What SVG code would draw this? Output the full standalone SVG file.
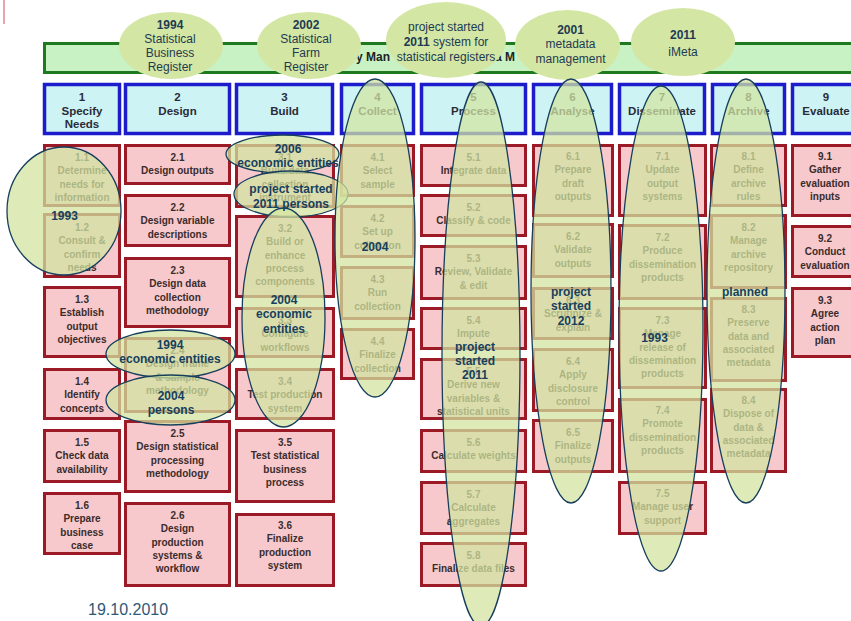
<svg xmlns="http://www.w3.org/2000/svg" width="851" height="621" viewBox="0 0 851 621">
<style>
.hb{fill:#cdf3f5;stroke:#1c1ccc;stroke-width:3.5}
.rb{fill:#f7c9cd;stroke:#9c1a26;stroke-width:3}
.bt{font-family:"Liberation Sans",Arial,sans-serif;font-weight:bold;font-size:10px;fill:#3a2c2c;text-anchor:middle}
.ht{font-family:"Liberation Sans",Arial,sans-serif;font-weight:bold;font-size:11.5px;fill:#2b2b38;text-anchor:middle}
.et{fill:#d4e6a4}
.el{fill:#d3e4a0;fill-opacity:.74;stroke:#173f5c;stroke-width:1.3}
.lb{font-family:"Liberation Sans",Arial,sans-serif;font-weight:bold;font-size:12px;fill:#16405e;text-anchor:middle}
.tl{font-family:"Liberation Sans",Arial,sans-serif;font-size:12px;fill:#1d3b52;text-anchor:middle}
.tb{font-weight:bold}
</style>
<rect width="851" height="621" fill="#ffffff"/>
<line x1="4" y1="0" x2="4" y2="24" stroke="#e6a6ae" stroke-width="2"/>
<g id="bar">
<rect x="44.5" y="43.5" width="820" height="29" fill="#c9f2c4" stroke="#1f7a1f" stroke-width="3"/>
<text x="356" y="61" font-family="Liberation Sans,Arial,sans-serif" font-weight="bold" font-size="12" fill="#222">y Man</text>
<text x="495" y="61" font-family="Liberation Sans,Arial,sans-serif" font-weight="bold" font-size="12" fill="#222">a M</text>
</g>
<g id="headers">
<g id="h1"><rect class="hb" x="44.5" y="84.5" width="75" height="49"/><text class="ht" x="82" y="101"><tspan x="82">1</tspan><tspan x="82" dy="13.5">Specify</tspan><tspan x="82" dy="13.5">Needs</tspan></text></g>
<g id="h2"><rect class="hb" x="125.5" y="84.5" width="104" height="49"/><text class="ht" x="177.5" y="101"><tspan x="177.5">2</tspan><tspan x="177.5" dy="13.5">Design</tspan></text></g>
<g id="h3"><rect class="hb" x="236.5" y="84.5" width="96" height="49"/><text class="ht" x="284.5" y="101"><tspan x="284.5">3</tspan><tspan x="284.5" dy="13.5">Build</tspan></text></g>
<g id="h4"><rect class="hb" x="341.5" y="84.5" width="72" height="49"/><text class="ht" x="377.5" y="101"><tspan x="377.5">4</tspan><tspan x="377.5" dy="13.5">Collect</tspan></text></g>
<g id="h5"><rect class="hb" x="421.5" y="84.5" width="104" height="49"/><text class="ht" x="473.5" y="101"><tspan x="473.5">5</tspan><tspan x="473.5" dy="13.5">Process</tspan></text></g>
<g id="h6"><rect class="hb" x="533.5" y="84.5" width="78" height="49"/><text class="ht" x="572.5" y="101"><tspan x="572.5">6</tspan><tspan x="572.5" dy="13.5">Analyse</tspan></text></g>
<g id="h7"><rect class="hb" x="619.5" y="84.5" width="85" height="49"/><text class="ht" x="662" y="101"><tspan x="662">7</tspan><tspan x="662" dy="13.5">Disseminate</tspan></text></g>
<g id="h8"><rect class="hb" x="712.5" y="84.5" width="72" height="49"/><text class="ht" x="748.5" y="101"><tspan x="748.5">8</tspan><tspan x="748.5" dy="13.5">Archive</tspan></text></g>
<g id="h9"><rect class="hb" x="792.5" y="84.5" width="67" height="49"/><text class="ht" x="826" y="101"><tspan x="826">9</tspan><tspan x="826" dy="13.5">Evaluate</tspan></text></g>
</g>
<g id="boxes">
<g id="b1-1"><rect class="rb" x="44.5" y="145.5" width="75" height="60"/><text class="bt" y="161"><tspan x="82">1.1</tspan><tspan x="82" dy="13.3">Determine</tspan><tspan x="82" dy="13.3">needs for</tspan><tspan x="82" dy="13.3">information</tspan></text></g>
<g id="b1-2"><rect class="rb" x="44.5" y="214.5" width="75" height="62"/><text class="bt" y="231"><tspan x="82">1.2</tspan><tspan x="82" dy="13.3">Consult &amp;</tspan><tspan x="82" dy="13.3">confirm</tspan><tspan x="82" dy="13.3">needs</tspan></text></g>
<g id="b1-3"><rect class="rb" x="44.5" y="287.5" width="75" height="69"/><text class="bt" y="303"><tspan x="82">1.3</tspan><tspan x="82" dy="13.3">Establish</tspan><tspan x="82" dy="13.3">output</tspan><tspan x="82" dy="13.3">objectives</tspan></text></g>
<g id="b1-4"><rect class="rb" x="44.5" y="369.5" width="75" height="49"/><text class="bt" y="385"><tspan x="82">1.4</tspan><tspan x="82" dy="13.3">Identify</tspan><tspan x="82" dy="13.3">concepts</tspan></text></g>
<g id="b1-5"><rect class="rb" x="44.5" y="430.5" width="75" height="51"/><text class="bt" y="446"><tspan x="82">1.5</tspan><tspan x="82" dy="13.3">Check data</tspan><tspan x="82" dy="13.3">availability</tspan></text></g>
<g id="b1-6"><rect class="rb" x="44.5" y="493.5" width="75" height="60"/><text class="bt" y="509"><tspan x="82">1.6</tspan><tspan x="82" dy="13.3">Prepare</tspan><tspan x="82" dy="13.3">business</tspan><tspan x="82" dy="13.3">case</tspan></text></g>

<g id="b2-1"><rect class="rb" x="125.5" y="145.5" width="104" height="38"/><text class="bt" y="161"><tspan x="177.5">2.1</tspan><tspan x="177.5" dy="13.3">Design outputs</tspan></text></g>
<g id="b2-2"><rect class="rb" x="125.5" y="195.5" width="104" height="50"/><text class="bt" y="211"><tspan x="177.5">2.2</tspan><tspan x="177.5" dy="13.3">Design variable</tspan><tspan x="177.5" dy="13.3">descriptions</tspan></text></g>
<g id="b2-3"><rect class="rb" x="125.5" y="258.5" width="104" height="68"/><text class="bt" y="274"><tspan x="177.5">2.3</tspan><tspan x="177.5" dy="13.3">Design data</tspan><tspan x="177.5" dy="13.3">collection</tspan><tspan x="177.5" dy="13.3">methodology</tspan></text></g>
<g id="b2-4"><rect class="rb" x="125.5" y="338.5" width="104" height="73"/><text class="bt" y="354"><tspan x="177.5">2.4</tspan><tspan x="177.5" dy="13.3">Design frame</tspan><tspan x="177.5" dy="13.3">&amp; sample</tspan><tspan x="177.5" dy="13.3">methodology</tspan></text></g>
<g id="b2-5"><rect class="rb" x="125.5" y="421.5" width="104" height="70"/><text class="bt" y="437"><tspan x="177.5">2.5</tspan><tspan x="177.5" dy="13.3">Design statistical</tspan><tspan x="177.5" dy="13.3">processing</tspan><tspan x="177.5" dy="13.3">methodology</tspan></text></g>
<g id="b2-6"><rect class="rb" x="125.5" y="503.5" width="104" height="82"/><text class="bt" y="519"><tspan x="177.5">2.6</tspan><tspan x="177.5" dy="13.3">Design</tspan><tspan x="177.5" dy="13.3">production</tspan><tspan x="177.5" dy="13.3">systems &amp;</tspan><tspan x="177.5" dy="13.3">workflow</tspan></text></g>

<g id="b3-1"><rect class="rb" x="236.5" y="145.5" width="97" height="61"/><text class="bt" y="161"><tspan x="285">3.1</tspan><tspan x="285" dy="13.3">Build data</tspan><tspan x="285" dy="13.3">collection</tspan><tspan x="285" dy="13.3">instrument</tspan></text></g>
<g id="b3-2"><rect class="rb" x="236.5" y="216.5" width="97" height="80"/><text class="bt" y="232"><tspan x="285">3.2</tspan><tspan x="285" dy="13.3">Build or</tspan><tspan x="285" dy="13.3">enhance</tspan><tspan x="285" dy="13.3">process</tspan><tspan x="285" dy="13.3">components</tspan></text></g>
<g id="b3-3"><rect class="rb" x="236.5" y="308.5" width="97" height="48"/><text class="bt" y="324"><tspan x="285">3.3</tspan><tspan x="285" dy="13.3">Configure</tspan><tspan x="285" dy="13.3">workflows</tspan></text></g>
<g id="b3-4"><rect class="rb" x="236.5" y="369.5" width="97" height="49"/><text class="bt" y="385"><tspan x="285">3.4</tspan><tspan x="285" dy="13.3">Test production</tspan><tspan x="285" dy="13.3">system</tspan></text></g>
<g id="b3-5"><rect class="rb" x="236.5" y="430.5" width="97" height="71"/><text class="bt" y="446"><tspan x="285">3.5</tspan><tspan x="285" dy="13.3">Test statistical</tspan><tspan x="285" dy="13.3">business</tspan><tspan x="285" dy="13.3">process</tspan></text></g>
<g id="b3-6"><rect class="rb" x="236.5" y="514.5" width="97" height="71"/><text class="bt" y="529"><tspan x="285">3.6</tspan><tspan x="285" dy="13.3">Finalize</tspan><tspan x="285" dy="13.3">production</tspan><tspan x="285" dy="13.3">system</tspan></text></g>

<g id="b4-1"><rect class="rb" x="341.5" y="145.5" width="72" height="50"/><text class="bt" y="161"><tspan x="377.5">4.1</tspan><tspan x="377.5" dy="13.3">Select</tspan><tspan x="377.5" dy="13.3">sample</tspan></text></g>
<g id="b4-2"><rect class="rb" x="341.5" y="206.5" width="72" height="50"/><text class="bt" y="222"><tspan x="377.5">4.2</tspan><tspan x="377.5" dy="13.3">Set up</tspan><tspan x="377.5" dy="13.3">collection</tspan></text></g>
<g id="b4-3"><rect class="rb" x="341.5" y="267.5" width="72" height="51"/><text class="bt" y="283"><tspan x="377.5">4.3</tspan><tspan x="377.5" dy="13.3">Run</tspan><tspan x="377.5" dy="13.3">collection</tspan></text></g>
<g id="b4-4"><rect class="rb" x="341.5" y="329.5" width="72" height="49"/><text class="bt" y="345"><tspan x="377.5">4.4</tspan><tspan x="377.5" dy="13.3">Finalize</tspan><tspan x="377.5" dy="13.3">collection</tspan></text></g>

<g id="b5-1"><rect class="rb" x="421.5" y="145.5" width="104" height="40"/><text class="bt" y="161"><tspan x="473.5">5.1</tspan><tspan x="473.5" dy="13.3">Integrate data</tspan></text></g>
<g id="b5-2"><rect class="rb" x="421.5" y="195.5" width="104" height="40"/><text class="bt" y="211"><tspan x="473.5">5.2</tspan><tspan x="473.5" dy="13.3">Classify &amp; code</tspan></text></g>
<g id="b5-3"><rect class="rb" x="421.5" y="246.5" width="104" height="52"/><text class="bt" y="262"><tspan x="473.5">5.3</tspan><tspan x="473.5" dy="13.3">Review, Validate</tspan><tspan x="473.5" dy="13.3">&amp; edit</tspan></text></g>
<g id="b5-4"><rect class="rb" x="421.5" y="308.5" width="104" height="40"/><text class="bt" y="324"><tspan x="473.5">5.4</tspan><tspan x="473.5" dy="13.3">Impute</tspan></text></g>
<g id="b5-5"><rect class="rb" x="421.5" y="359.5" width="104" height="59"/><text class="bt" y="375"><tspan x="473.5">5.5</tspan><tspan x="473.5" dy="13.3">Derive new</tspan><tspan x="473.5" dy="13.3">variables &amp;</tspan><tspan x="473.5" dy="13.3">statistical units</tspan></text></g>
<g id="b5-6"><rect class="rb" x="421.5" y="430.5" width="104" height="41"/><text class="bt" y="446"><tspan x="473.5">5.6</tspan><tspan x="473.5" dy="13.3">Calculate weights</tspan></text></g>
<g id="b5-7"><rect class="rb" x="421.5" y="482.5" width="104" height="51"/><text class="bt" y="498"><tspan x="473.5">5.7</tspan><tspan x="473.5" dy="13.3">Calculate</tspan><tspan x="473.5" dy="13.3">aggregates</tspan></text></g>
<g id="b5-8"><rect class="rb" x="421.5" y="543.5" width="104" height="42"/><text class="bt" y="559"><tspan x="473.5">5.8</tspan><tspan x="473.5" dy="13.3">Finalize data files</tspan></text></g>

<g id="b6-1"><rect class="rb" x="533.5" y="145.5" width="79" height="70"/><text class="bt" y="160"><tspan x="573">6.1</tspan><tspan x="573" dy="13.3">Prepare</tspan><tspan x="573" dy="13.3">draft</tspan><tspan x="573" dy="13.3">outputs</tspan></text></g>
<g id="b6-2"><rect class="rb" x="533.5" y="224.5" width="79" height="52"/><text class="bt" y="240"><tspan x="573">6.2</tspan><tspan x="573" dy="13.3">Validate</tspan><tspan x="573" dy="13.3">outputs</tspan></text></g>
<g id="b6-3"><rect class="rb" x="533.5" y="288.5" width="79" height="50"/><text class="bt" y="304"><tspan x="573">6.3</tspan><tspan x="573" dy="13.3">Scrutinize &amp;</tspan><tspan x="573" dy="13.3">explain</tspan></text></g>
<g id="b6-4"><rect class="rb" x="533.5" y="349.5" width="79" height="61"/><text class="bt" y="365"><tspan x="573">6.4</tspan><tspan x="573" dy="13.3">Apply</tspan><tspan x="573" dy="13.3">disclosure</tspan><tspan x="573" dy="13.3">control</tspan></text></g>
<g id="b6-5"><rect class="rb" x="533.5" y="420.5" width="79" height="51"/><text class="bt" y="436"><tspan x="573">6.5</tspan><tspan x="573" dy="13.3">Finalize</tspan><tspan x="573" dy="13.3">outputs</tspan></text></g>

<g id="b7-1"><rect class="rb" x="619.5" y="145.5" width="86" height="70"/><text class="bt" y="160"><tspan x="662.5">7.1</tspan><tspan x="662.5" dy="13.3">Update</tspan><tspan x="662.5" dy="13.3">output</tspan><tspan x="662.5" dy="13.3">systems</tspan></text></g>
<g id="b7-2"><rect class="rb" x="619.5" y="225.5" width="86" height="73"/><text class="bt" y="241"><tspan x="662.5">7.2</tspan><tspan x="662.5" dy="13.3">Produce</tspan><tspan x="662.5" dy="13.3">dissemination</tspan><tspan x="662.5" dy="13.3">products</tspan></text></g>
<g id="b7-3"><rect class="rb" x="619.5" y="308.5" width="86" height="79"/><text class="bt" y="324"><tspan x="662.5">7.3</tspan><tspan x="662.5" dy="13.3">Manage</tspan><tspan x="662.5" dy="13.3">release of</tspan><tspan x="662.5" dy="13.3">dissemination</tspan><tspan x="662.5" dy="13.3">products</tspan></text></g>
<g id="b7-4"><rect class="rb" x="619.5" y="399.5" width="86" height="72"/><text class="bt" y="414"><tspan x="662.5">7.4</tspan><tspan x="662.5" dy="13.3">Promote</tspan><tspan x="662.5" dy="13.3">dissemination</tspan><tspan x="662.5" dy="13.3">products</tspan></text></g>
<g id="b7-5"><rect class="rb" x="619.5" y="482.5" width="86" height="51"/><text class="bt" y="497"><tspan x="662.5">7.5</tspan><tspan x="662.5" dy="13.3">Manage user</tspan><tspan x="662.5" dy="13.3">support</tspan></text></g>

<g id="b8-1"><rect class="rb" x="711.5" y="145.5" width="74" height="60"/><text class="bt" y="160"><tspan x="748.5">8.1</tspan><tspan x="748.5" dy="13.3">Define</tspan><tspan x="748.5" dy="13.3">archive</tspan><tspan x="748.5" dy="13.3">rules</tspan></text></g>
<g id="b8-2"><rect class="rb" x="711.5" y="215.5" width="74" height="72"/><text class="bt" y="231"><tspan x="748.5">8.2</tspan><tspan x="748.5" dy="13.3">Manage</tspan><tspan x="748.5" dy="13.3">archive</tspan><tspan x="748.5" dy="13.3">repository</tspan></text></g>
<g id="b8-3"><rect class="rb" x="711.5" y="298.5" width="74" height="82"/><text class="bt" y="313"><tspan x="748.5">8.3</tspan><tspan x="748.5" dy="13.3">Preserve</tspan><tspan x="748.5" dy="13.3">data and</tspan><tspan x="748.5" dy="13.3">associated</tspan><tspan x="748.5" dy="13.3">metadata</tspan></text></g>
<g id="b8-4"><rect class="rb" x="711.5" y="389.5" width="74" height="82"/><text class="bt" y="404"><tspan x="748.5">8.4</tspan><tspan x="748.5" dy="13.3">Dispose of</tspan><tspan x="748.5" dy="13.3">data &amp;</tspan><tspan x="748.5" dy="13.3">associated</tspan><tspan x="748.5" dy="13.3">metadata</tspan></text></g>

<g id="b9-1"><rect class="rb" x="792.5" y="145.5" width="68" height="70"/><text class="bt" y="160"><tspan x="825">9.1</tspan><tspan x="825" dy="13.3">Gather</tspan><tspan x="825" dy="13.3">evaluation</tspan><tspan x="825" dy="13.3">inputs</tspan></text></g>
<g id="b9-2"><rect class="rb" x="792.5" y="226.5" width="68" height="50"/><text class="bt" y="242"><tspan x="825">9.2</tspan><tspan x="825" dy="13.3">Conduct</tspan><tspan x="825" dy="13.3">evaluation</tspan></text></g>
<g id="b9-3"><rect class="rb" x="792.5" y="288.5" width="68" height="68"/><text class="bt" y="304"><tspan x="825">9.3</tspan><tspan x="825" dy="13.3">Agree</tspan><tspan x="825" dy="13.3">action</tspan><tspan x="825" dy="13.3">plan</tspan></text></g>
</g>
<g id="connectors"></g>
<g id="top-notes">
<g id="n-sbr"><ellipse class="et" cx="171" cy="45.5" rx="52" ry="33.5"/><text class="tl" y="28.5"><tspan x="170" class="tb">1994</tspan><tspan x="170" dy="14">Statistical</tspan><tspan x="170" dy="14">Business</tspan><tspan x="170" dy="14.5">Register</tspan></text></g>
<g id="n-sfr"><ellipse class="et" cx="309" cy="45.5" rx="52" ry="33.5"/><text class="tl" y="28.5"><tspan x="306" class="tb">2002</tspan><tspan x="306" dy="14">Statistical</tspan><tspan x="306" dy="14">Farm</tspan><tspan x="306" dy="14.5">Register</tspan></text></g>
<g id="n-reg"><ellipse class="et" cx="446" cy="40" rx="60" ry="38"/><text class="tl" y="31"><tspan x="446">project started</tspan><tspan x="446" dy="15"><tspan class="tb">2011</tspan> system for</tspan><tspan x="446" dy="15">statistical registers</tspan></text></g>
<g id="n-meta"><ellipse class="et" cx="567.5" cy="45" rx="52.5" ry="35"/><text class="tl" y="33.5"><tspan x="570.5" class="tb">2001</tspan><tspan x="570.5" dy="14.5">metadata</tspan><tspan x="570.5" dy="14.5">management</tspan></text></g>
<g id="n-imeta"><ellipse class="et" cx="683" cy="42" rx="52" ry="34"/><text class="tl" y="38.5"><tspan x="683" class="tb">2011</tspan><tspan x="683" dy="17">iMeta</tspan></text></g>
</g>
<g id="overlays">
<g id="o-1993a"><ellipse class="el" cx="64" cy="211" rx="57" ry="64"/></g>
<g id="o-1994ee"><ellipse class="el" cx="170.5" cy="354" rx="64.5" ry="24"/></g>
<g id="o-2004p"><ellipse class="el" cx="170.5" cy="400" rx="64.5" ry="25"/></g>
<g id="o-2006ee"><ellipse class="el" cx="282.5" cy="154" rx="56.5" ry="19"/></g>
<g id="o-2011p"><ellipse class="el" cx="291" cy="194" rx="57" ry="23"/></g>
<g id="o-2004ee"><ellipse class="el" cx="283.5" cy="317.5" rx="41.5" ry="109.5"/></g>
<g id="o-2004c"><ellipse class="el" cx="375" cy="238" rx="40" ry="159"/></g>
<g id="o-2011proc"><ellipse class="el" cx="481" cy="354" rx="39" ry="272"/></g>
<g id="o-2012"><ellipse class="el" cx="571" cy="291" rx="40" ry="212"/></g>
<g id="o-1993b"><ellipse class="el" cx="661" cy="328.5" rx="42" ry="242.5"/></g>
<g id="o-planned"><ellipse class="el" cx="746" cy="291" rx="39" ry="212"/></g>
</g>
<g id="overlay-labels">
<text class="lb" x="64.5" y="220">1993</text>
<text class="lb" y="348.5"><tspan x="170">1994</tspan><tspan x="170" dy="14">economic entities</tspan></text>
<text class="lb" y="399.5"><tspan x="171">2004</tspan><tspan x="171" dy="14.5">persons</tspan></text>
<text class="lb" y="152.5"><tspan x="288">2006</tspan><tspan x="288" dy="14">economic entities</tspan></text>
<text class="lb" y="192.5"><tspan x="291">project started</tspan><tspan x="291" dy="15">2011 persons</tspan></text>
<text class="lb" y="303.5"><tspan x="284">2004</tspan><tspan x="284" dy="14.5">economic</tspan><tspan x="284" dy="14.5">entities</tspan></text>
<text class="lb" x="375" y="250.5">2004</text>
<text class="lb" y="350.5"><tspan x="475">project</tspan><tspan x="475" dy="14.5">started</tspan><tspan x="475" dy="13.5">2011</tspan></text>
<text class="lb" y="295.5"><tspan x="571">project</tspan><tspan x="571" dy="14.5">started</tspan><tspan x="571" dy="14.5">2012</tspan></text>
<text class="lb" x="654.5" y="341.5">1993</text>
<text class="lb" x="745" y="295.5">planned</text>
</g>
<text x="88" y="614.5" font-family="Liberation Sans,Arial,sans-serif" font-size="16" fill="#2d5877">19.10.2010</text>
</svg>
